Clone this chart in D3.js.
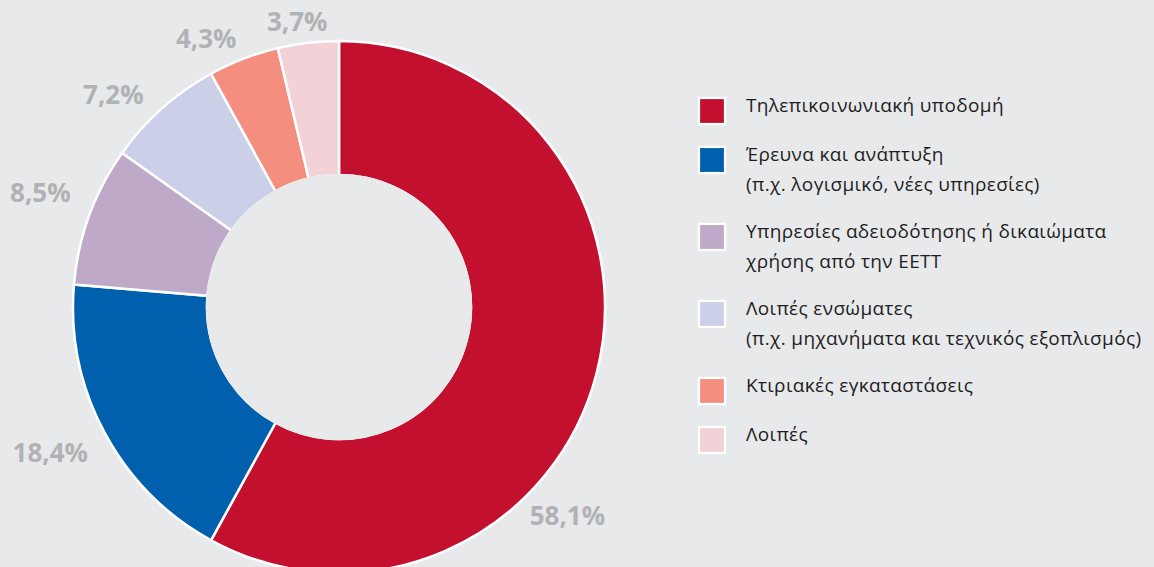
<!DOCTYPE html>
<html><head><meta charset="utf-8">
<script src="https://cdn.jsdelivr.net/npm/d3@7"></script>
<style>
html,body{margin:0;padding:0;background:#e8e9eb;}
svg{display:block;}
</style></head>
<body>
<svg id="chart" width="1154" height="567"></svg>
<script>
const categories = [
  "Τηλεπικοινωνιακή υποδομή",
  "Έρευνα και ανάπτυξη|(π.χ. λογισμικό, νέες υπηρεσίες)",
  "Υπηρεσίες αδειοδότησης ή δικαιώματα|χρήσης από την ΕΕΤΤ",
  "Λοιπές ενσώματες|(π.χ. μηχανήματα και τεχνικός εξοπλισμός)",
  "Κτιριακές εγκαταστάσεις",
  "Λοιπές"
];
const values = [58.1, 18.4, 8.5, 7.2, 4.3, 3.7];
const valueLabels = ["58,1%", "18,4%", "8,5%", "7,2%", "4,3%", "3,7%"];
const colors = ["#c3102f", "#0060ad", "#bea9c8", "#cbd0e8", "#f48f80", "#f2d2d6"];
// where along each slice (0..1 of its angle) the value label sits
const labelAngleFrac = [0.634, 0.524, 0.53, 0.305, 0.16, 0.375];
const labelRadius = [309, 323, 320, 310, 300, 289];

const svg = d3.select("#chart");
const cx = 339, cy = 307, R = 266, r0 = 132;
const g = svg.append("g").attr("transform", `translate(${cx},${cy})`);

const pie = d3.pie().sort(null).value(d => d);
const arcs = pie(values);
const arc = d3.arc().innerRadius(r0).outerRadius(R);

g.selectAll("path.slice").data(arcs).join("path")
  .attr("class", "slice")
  .attr("d", arc)
  .attr("fill", (d, i) => colors[i])
  .attr("stroke", "#ffffff")
  .attr("stroke-width", 2.5)
  .attr("stroke-linejoin", "miter");

// inner hole: background circle covering inner white strokes
g.append("circle").attr("r", r0 + 1.2).attr("fill", "#e8e9eb");

const labelAngle = (d, i) => d.startAngle + labelAngleFrac[i] * (d.endAngle - d.startAngle);

g.selectAll("text.val").data(arcs).join("text")
  .attr("class", "val")
  .attr("x", (d, i) => labelRadius[i] * Math.sin(labelAngle(d, i)))
  .attr("y", (d, i) => -labelRadius[i] * Math.cos(labelAngle(d, i)))
  .attr("text-anchor", "middle")
  .attr("dominant-baseline", "central")
  .attr("font-family", "'Open Sans', sans-serif")
  .attr("font-weight", 700)
  .attr("font-size", 26)
  .attr("fill", "#b1b2b4")
  .text((d, i) => valueLabels[i]);

// legend
const legend = svg.append("g").attr("transform", "translate(698,97)");
let yPos = 0;
categories.forEach((c, i) => {
  const lines = c.split("|");
  const item = legend.append("g").attr("transform", `translate(0,${yPos})`);
  item.append("rect")
    .attr("x", 1).attr("y", 1).attr("width", 26).attr("height", 26)
    .attr("fill", colors[i]).attr("stroke", "#ffffff").attr("stroke-width", 2.2);
  lines.forEach((ln, j) => {
    item.append("text")
      .attr("x", 48).attr("y", 15 + j * 30)
      .attr("font-family", "'Open Sans', sans-serif")
      .attr("font-size", 19)
      .attr("letter-spacing", 0.35)
      .attr("fill", "#1e1e1e")
      .text(ln);
  });
  yPos += 21 + 28 * lines.length;
});
</script>
</body></html>
